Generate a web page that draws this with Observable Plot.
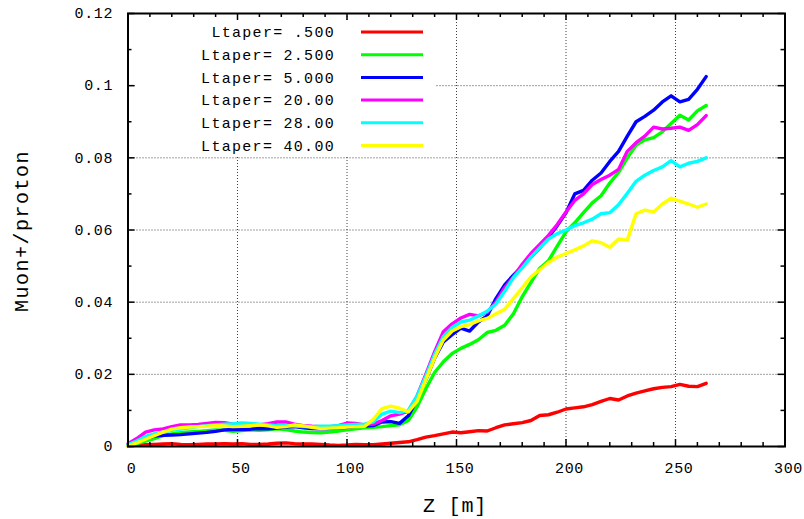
<!DOCTYPE html>
<html><head><meta charset="utf-8">
<script src="https://cdn.jsdelivr.net/npm/d3@7"></script>
<script src="https://cdn.jsdelivr.net/npm/@observablehq/plot@0.6"></script>
<style>
body{margin:0;background:#fff;}
#wrap{position:relative;width:804px;height:519px;font-family:"Liberation Mono",monospace;overflow:hidden;}
#wrap svg{display:block;}
.lab{position:absolute;font-family:"Liberation Mono",monospace;font-size:20px;color:#000;white-space:pre;}
#xlab{left:455px;top:506px;transform:translate(-50%,-50%);letter-spacing:0.8px;}
#ylab{left:22px;top:231px;transform:translate(-50%,-50%) rotate(-90deg);letter-spacing:1.5px;}
</style></head><body>
<div id="wrap"></div>
<script>
const z = [0,4,8,12,16,20,24,28,32,36,40,44,48,52,56,60,64,68,72,76,80,84,88,92,96,100,104,108,112,116,120,124,128,132,136,140,144,148,152,156,160,164,168,172,176,180,184,188,192,196,200,204,208,212,216,220,224,228,232,236,240,244,248,252,256,260,264];

const lt0500 = [0.0002,0.0004,0.0005,0.0006,0.0007,0.0008,0.0006,0.0005,0.0006,0.0007,0.0007,0.0008,0.0007,0.0008,0.0006,0.0006,0.0007,0.0009,0.0010,0.0008,0.0007,0.0007,0.0006,0.0004,0.0003,0.0004,0.0006,0.0005,0.0005,0.0007,0.0009,0.0011,0.0013,0.0019,0.0026,0.0030,0.0035,0.0040,0.0038,0.0041,0.0044,0.0043,0.0052,0.0060,0.0063,0.0066,0.0072,0.0086,0.0088,0.0095,0.0104,0.0107,0.0110,0.0116,0.0125,0.0133,0.0129,0.0140,0.0148,0.0154,0.0160,0.0164,0.0166,0.0172,0.0167,0.0166,0.0175];

const lt2500 = [0.0003,0.0008,0.0015,0.0022,0.0030,0.0035,0.0038,0.0040,0.0042,0.0044,0.0046,0.0045,0.0042,0.0044,0.0046,0.0045,0.0046,0.0049,0.0047,0.0043,0.0040,0.0039,0.0038,0.0040,0.0043,0.0046,0.0049,0.0052,0.0053,0.0055,0.0058,0.0060,0.0072,0.0110,0.0160,0.0205,0.0235,0.0258,0.0272,0.0283,0.0296,0.0316,0.0322,0.0336,0.0368,0.0415,0.0455,0.0494,0.0515,0.0555,0.0595,0.0620,0.0648,0.0675,0.0695,0.0730,0.0760,0.0800,0.0835,0.0850,0.0856,0.0872,0.0895,0.0918,0.0905,0.0930,0.0945];

const lt5000 = [0.0005,0.0012,0.0022,0.0029,0.0031,0.0032,0.0033,0.0035,0.0037,0.0039,0.0042,0.0046,0.0047,0.0047,0.0048,0.0050,0.0049,0.0051,0.0054,0.0055,0.0052,0.0050,0.0049,0.0050,0.0051,0.0053,0.0056,0.0057,0.0058,0.0068,0.0069,0.0064,0.0085,0.0130,0.0185,0.0245,0.0290,0.0310,0.0328,0.0320,0.0345,0.0362,0.0410,0.0448,0.0475,0.0500,0.0525,0.0550,0.0580,0.0612,0.0648,0.0700,0.0710,0.0738,0.0758,0.0790,0.0818,0.0860,0.0900,0.0915,0.0932,0.0955,0.0972,0.0955,0.0962,0.0990,0.1025];

const lt2000 = [0.0008,0.0022,0.0040,0.0046,0.0049,0.0055,0.0060,0.0060,0.0061,0.0064,0.0067,0.0066,0.0062,0.0063,0.0062,0.0060,0.0063,0.0068,0.0068,0.0062,0.0058,0.0056,0.0055,0.0054,0.0058,0.0065,0.0064,0.0060,0.0062,0.0072,0.0085,0.0090,0.0098,0.0140,0.0200,0.0262,0.0318,0.0340,0.0356,0.0366,0.0362,0.0372,0.0400,0.0440,0.0470,0.0505,0.0535,0.0560,0.0585,0.0615,0.0650,0.0682,0.0700,0.0726,0.0740,0.0752,0.0768,0.0818,0.0842,0.0860,0.0885,0.0880,0.0882,0.0885,0.0876,0.0892,0.0917];

const lt2800 = [0.0005,0.0015,0.0028,0.0035,0.0040,0.0045,0.0048,0.0052,0.0055,0.0058,0.0060,0.0062,0.0063,0.0065,0.0064,0.0062,0.0060,0.0058,0.0058,0.0057,0.0055,0.0055,0.0056,0.0056,0.0058,0.0060,0.0061,0.0062,0.0068,0.0090,0.0098,0.0094,0.0100,0.0140,0.0195,0.0255,0.0305,0.0330,0.0345,0.0350,0.0362,0.0375,0.0395,0.0430,0.0468,0.0495,0.0525,0.0550,0.0575,0.0590,0.0600,0.0612,0.0620,0.0630,0.0645,0.0648,0.0670,0.0702,0.0735,0.0752,0.0765,0.0775,0.0792,0.0775,0.0785,0.0790,0.0800];

const lt4000 = [0.0002,0.0010,0.0020,0.0030,0.0040,0.0048,0.0052,0.0054,0.0055,0.0056,0.0058,0.0057,0.0055,0.0056,0.0058,0.0060,0.0057,0.0053,0.0055,0.0060,0.0057,0.0053,0.0050,0.0051,0.0052,0.0054,0.0055,0.0056,0.0075,0.0105,0.0112,0.0106,0.0096,0.0125,0.0185,0.0245,0.0295,0.0320,0.0332,0.0338,0.0348,0.0355,0.0368,0.0380,0.0410,0.0440,0.0470,0.0490,0.0510,0.0525,0.0535,0.0545,0.0556,0.0570,0.0565,0.0552,0.0575,0.0572,0.0645,0.0655,0.0650,0.0672,0.0688,0.0680,0.0672,0.0663,0.0672];

const seriesNames = ["Ltaper= .500","Ltaper= 2.500","Ltaper= 5.000","Ltaper= 20.00","Ltaper= 28.00","Ltaper= 40.00"];
const seriesValues = [lt0500, lt2500, lt5000, lt2000, lt2800, lt4000];
const seriesColors = ["#ff0000","#00ff00","#0000ff","#ff00ff","#00ffff","#ffff00"];

const xTicks = [0,50,100,150,200,250,300];
const xTickLabels = ["0","50","100","150","200","250","300"];
const xMinor = [10,20,30,40,60,70,80,90,110,120,130,140,160,170,180,190,210,220,230,240,260,270,280,290];
const yTicks = [0,0.02,0.04,0.06,0.08,0.1,0.12];
const yTickLabels = ["0","0.02","0.04","0.06","0.08","0.1","0.12"];
const yMinor = [0.01,0.03,0.05,0.07,0.09,0.11];
const xGrid = [50,100,150,200,250];
const yGrid = [0.02,0.04,0.06,0.08,0.1];

const rows = [];
seriesNames.forEach((name, s) => {
  seriesValues[s].forEach((v, i) => rows.push({z: z[i], v, s: name}));
});

const gridStyle = {stroke: "#000", strokeWidth: 1, strokeDasharray: "1,2", strokeOpacity: 0.75};
const tickStyle = {stroke: "#000", strokeWidth: 1.5};
const major = 7, minor = 4;

const chart = Plot.plot({
  width: 804, height: 519,
  marginLeft: 127.5, marginRight: 19.5, marginTop: 13, marginBottom: 73,
  x: {domain: [0, 300]},
  y: {domain: [0, 0.12]},
  color: {domain: seriesNames, range: seriesColors},
  style: {fontFamily: "Liberation Mono, monospace", fontSize: "15px", background: "white", color: "#000"},
  marks: [
    Plot.ruleX(xGrid, gridStyle),
    Plot.ruleY(yGrid, gridStyle),
    Plot.line(rows, {x: "z", y: "v", z: "s", stroke: "s", strokeWidth: 3.4, strokeLinejoin: "round", strokeLinecap: "round"}),
    Plot.ruleX(xMinor, {x: d => d, y1: () => 0, y2: () => 0, insetTop: -minor, ...tickStyle}),
    Plot.ruleX(xTicks, {x: d => d, y1: () => 0, y2: () => 0, insetTop: -major, ...tickStyle}),
    Plot.ruleX(xMinor, {x: d => d, y1: () => 0.12, y2: () => 0.12, insetBottom: -minor, ...tickStyle}),
    Plot.ruleX(xTicks, {x: d => d, y1: () => 0.12, y2: () => 0.12, insetBottom: -major, ...tickStyle}),
    Plot.ruleY(yMinor, {y: d => d, x1: () => 0, x2: () => 0, insetRight: -minor, ...tickStyle}),
    Plot.ruleY(yTicks, {y: d => d, x1: () => 0, x2: () => 0, insetRight: -major, ...tickStyle}),
    Plot.ruleY(yMinor, {y: d => d, x1: () => 300, x2: () => 300, insetLeft: -minor, ...tickStyle}),
    Plot.ruleY(yTicks, {y: d => d, x1: () => 300, x2: () => 300, insetLeft: -major, ...tickStyle}),
    Plot.frame({stroke: "#000", strokeWidth: 2}),
    Plot.axisX({ticks: xTicks, tickSize: 0, tickPadding: 16, dx: 3.5, tickFormat: (d, i) => xTickLabels[i], label: null, fontSize: 15}),
    Plot.axisY({ticks: yTicks, tickSize: 0, tickPadding: 15, tickFormat: (d, i) => yTickLabels[i], label: null, fontSize: 15})
  ]
});

const wrap = document.getElementById("wrap");
wrap.appendChild(chart);
d3.select(chart).selectAll("text").style("letter-spacing", "0.6px");

const leg = d3.select(wrap).append("svg")
  .attr("width", 300).attr("height", 136)
  .style("position", "absolute").style("left", "136px").style("top", "20px")
  .style("background", "#fff");
seriesNames.forEach((name, i) => {
  const cy = 12 + i * 22.7;
  leg.append("text").attr("x", 199).attr("y", cy).attr("dy", "0.35em")
    .attr("text-anchor", "end")
    .style("font-family", "Liberation Mono, monospace").style("font-size", "15px").style("letter-spacing", "1.3px")
    .text(name);
  leg.append("line").attr("x1", 225).attr("x2", 287).attr("y1", cy).attr("y2", cy)
    .attr("stroke", seriesColors[i]).attr("stroke-width", 3);
});

const xl = document.createElement("div"); xl.className = "lab"; xl.id = "xlab"; xl.textContent = "Z [m]"; wrap.appendChild(xl);
const yl = document.createElement("div"); yl.className = "lab"; yl.id = "ylab"; yl.textContent = "Muon+/proton"; wrap.appendChild(yl);
</script>
</body></html>
